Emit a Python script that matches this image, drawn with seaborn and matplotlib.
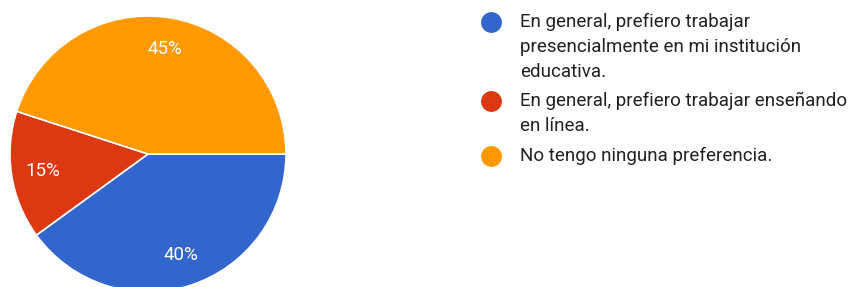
import matplotlib
matplotlib.use("Agg")
import matplotlib.pyplot as plt
import seaborn as sns

# ── Data ───────────────────────────────────────────────────────────────────
categories = [
    "En general, prefiero trabajar\npresencialmente en mi institución\neducativa.",
    "En general, prefiero trabajar enseñando\nen línea.",
    "No tengo ninguna preferencia.",
]
shares = [40, 15, 45]
colors = ["#3366CC", "#DC3912", "#FF9900"]

sns.set_theme(style="white")
plt.rcParams["font.family"] = ["Roboto", "DejaVu Sans"]

W, H = 851, 287
fig = plt.figure(figsize=(W / 100, H / 100), dpi=100)

# pie: centre (148,154) px, radius 138 px
cx, cy, r = 148, 154, 138
ax = fig.add_axes([(cx - r) / W, (H - cy - r) / H, 2 * r / W, 2 * r / H])
wedges, _, autotexts = ax.pie(
    shares, colors=colors, startangle=0, counterclock=False,
    autopct="%1.0f%%", pctdistance=0.77,
    wedgeprops=dict(edgecolor="white", linewidth=1.2),
    textprops=dict(color="white", fontsize=13.5),
)
ax.set_xlim(-1, 1)
ax.set_ylim(-1, 1)
ax.set_aspect("auto")
ax.axis("off")

# legend drawn in pixel coordinates
lax = fig.add_axes([0, 0, 1, 1])
lax.set_xlim(0, W)
lax.set_ylim(H, 0)
lax.axis("off")
line_h = 24.5
y = 22
for lab, col in zip(categories, colors):
    lax.plot([491], [y], "o", color=col, markersize=15, markeredgewidth=0)
    lax.text(520, y - 9, lab, fontsize=13.5, color="#212121", va="top",
             ha="left", linespacing=1.5)
    y += line_h * lab.count("\n") + 30

fig.savefig("out.png", dpi=100)
